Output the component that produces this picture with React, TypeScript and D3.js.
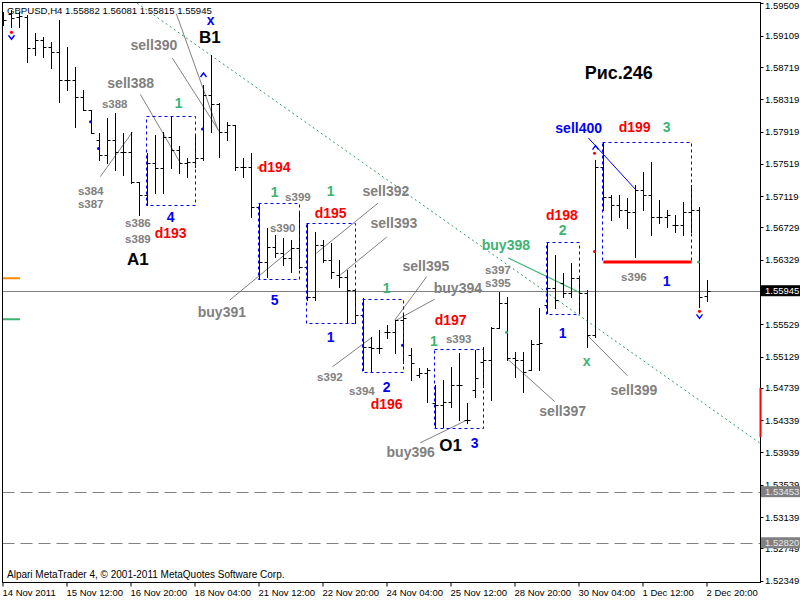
import * as d3 from "d3";

// chart frame (MetaTrader window)
const FRAME = { left: 2.5, top: 2.5, right: 760.5, bottom: 582.5 };
const FONT = "'Liberation Sans', Arial, sans-serif";

const header = "GBPUSD,H4  1.55882 1.56081 1.55815 1.55945";
const copyright = "Alpari MetaTrader 4, © 2001-2011 MetaQuotes Software Corp.";

// H4 bars, 14 Nov 2011 .. 2 Dec 2011 20:00
const opens = [
  1.5936, 1.5938, 1.5934, 1.5934, 1.5895, 1.5905, 1.5897, 1.5891, 1.5856, 1.5856,
  1.5835, 1.5819, 1.5781, 1.5763, 1.5781, 1.5767, 1.5767, 1.5729, 1.5713, 1.5753,
  1.5747, 1.5785, 1.5769, 1.5753, 1.5754, 1.5759, 1.5837, 1.5826, 1.5791, 1.58,
  1.5748, 1.5748, 1.5698, 1.563, 1.5649, 1.5641, 1.5635, 1.5647, 1.5624, 1.5587,
  1.5651, 1.5633, 1.5614, 1.5612, 1.5595, 1.5564, 1.5525, 1.5523, 1.5543, 1.5543,
  1.5558, 1.5515, 1.549, 1.5492, 1.5455, 1.5453, 1.5457, 1.5477, 1.5434, 1.5471,
  1.5506, 1.5509, 1.5548, 1.5579, 1.5511, 1.5509, 1.5496, 1.5528, 1.5577, 1.5598,
  1.5604, 1.5592, 1.561, 1.5592, 1.554, 1.5748, 1.5711, 1.5701, 1.5695, 1.5692,
  1.5719, 1.5713, 1.5686, 1.5686, 1.5676, 1.5676, 1.5692, 1.5695, 1.55882,
];
const highs = [
  1.594, 1.5943, 1.594, 1.5936, 1.5914, 1.5909, 1.5903, 1.593, 1.5897, 1.5872,
  1.5843, 1.5819, 1.579, 1.5809, 1.5815, 1.579, 1.5791, 1.5729, 1.5765, 1.5788,
  1.5791, 1.581, 1.5774, 1.5759, 1.5788, 1.585, 1.5887, 1.5827, 1.5804, 1.58,
  1.5759, 1.5765, 1.5703, 1.5672, 1.5664, 1.566, 1.5657, 1.5692, 1.5678, 1.5667,
  1.5657, 1.5654, 1.5633, 1.562, 1.5595, 1.5585, 1.5537, 1.5546, 1.5552, 1.5558,
  1.5567, 1.5523, 1.5499, 1.5499, 1.5477, 1.5484, 1.55, 1.5517, 1.5455, 1.5521,
  1.5525, 1.555, 1.5593, 1.5587, 1.5518, 1.5518, 1.5533, 1.5573, 1.5655, 1.5639,
  1.5616, 1.5629, 1.561, 1.5595, 1.5757, 1.5779, 1.5713, 1.5713, 1.5709, 1.5726,
  1.5742, 1.5754, 1.5707, 1.5695, 1.5688, 1.5705, 1.5726, 1.5698, 1.56081,
];
const lows = [
  1.5924, 1.5922, 1.5922, 1.5878, 1.5887, 1.5884, 1.5871, 1.5829, 1.5843, 1.5798,
  1.5819, 1.579, 1.5757, 1.5753, 1.5744, 1.5738, 1.5728, 1.5688, 1.5701, 1.5716,
  1.5716, 1.5747, 1.574, 1.5736, 1.5748, 1.5757, 1.5791, 1.576, 1.5781, 1.5744,
  1.5736, 1.5686, 1.561, 1.5612, 1.5636, 1.5626, 1.5618, 1.5623, 1.5583, 1.5583,
  1.563, 1.561, 1.5599, 1.5554, 1.5554, 1.5496, 1.5494, 1.5517, 1.5536, 1.5517,
  1.5505, 1.5484, 1.5488, 1.5457, 1.5425, 1.5425, 1.545, 1.5434, 1.543, 1.5463,
  1.5475, 1.5459, 1.5548, 1.5509, 1.5488, 1.5469, 1.5496, 1.5496, 1.5567, 1.5573,
  1.5587, 1.5587, 1.5567, 1.5525, 1.5537, 1.5695, 1.5682, 1.5686, 1.5672, 1.5636,
  1.5695, 1.5664, 1.5678, 1.5674, 1.5667, 1.5664, 1.5667, 1.5574, 1.55815,
];
const closes = [
  1.593, 1.5933, 1.5935, 1.5895, 1.5905, 1.5897, 1.5891, 1.5856, 1.5856, 1.5835,
  1.5819, 1.579, 1.5763, 1.5781, 1.5767, 1.5767, 1.5729, 1.5713, 1.5753, 1.5747,
  1.5785, 1.5769, 1.5753, 1.5754, 1.5759, 1.5837, 1.5826, 1.5791, 1.58, 1.5748,
  1.5748, 1.5698, 1.563, 1.5649, 1.5641, 1.5635, 1.5647, 1.5624, 1.5587, 1.5651,
  1.5633, 1.5618, 1.5612, 1.5595, 1.5564, 1.5525, 1.5523, 1.5523, 1.5543, 1.5558,
  1.5561, 1.5505, 1.5492, 1.5496, 1.5453, 1.5457, 1.5477, 1.5477, 1.5434, 1.5486,
  1.5509, 1.5548, 1.5579, 1.5511, 1.5509, 1.5494, 1.5528, 1.553, 1.5598, 1.5583,
  1.5592, 1.561, 1.5592, 1.554, 1.5748, 1.5711, 1.5701, 1.5695, 1.5692, 1.5719,
  1.5713, 1.5686, 1.5686, 1.5688, 1.5676, 1.5692, 1.5695, 1.5587, 1.55945,
];

const timeLabels = [
  "14 Nov 2011", "15 Nov 12:00", "16 Nov 20:00", "18 Nov 04:00", "21 Nov 12:00",
  "22 Nov 20:00", "24 Nov 04:00", "25 Nov 12:00", "28 Nov 20:00", "30 Nov 04:00",
  "1 Dec 12:00", "2 Dec 20:00",
];
const priceTicks = [
  1.59509, 1.59109, 1.58719, 1.58319, 1.57919, 1.57519, 1.57119, 1.56729, 1.56329,
  1.55529, 1.55129, 1.54739, 1.54339, 1.53939, 1.53539, 1.53139, 1.52749, 1.52349,
];
const lastPrice = 1.55945;
const dashedLevels = [1.53453, 1.5282];
const axisRange = [1.5413, 1.5474];
const leftLevels: [number, string][] = [
  [1.561, "orange"],
  [1.5559, "green"],
];

// boxes: [fromBar, toBar, top, bottom]
const boxes: [number, number, number, number][] = [
  [18, 24, 1.5811, 1.5701],
  [32, 37, 1.5703, 1.5609],
  [38, 44, 1.5678, 1.5554],
  [45, 50, 1.5584, 1.5494],
  [54, 60, 1.5522, 1.5424],
  [68, 72, 1.5655, 1.5566],
  [75, 86, 1.5779, 1.563],
];
const redLevel: [number, number, number] = [75, 86, 1.563];

// dotted trend line
const trend: [number, number, number, number] = [16.7, 1.5951, 94.5, 1.5406];

// pointer lines [bar1, price1, bar2, price2, kind]
const pointers: [number, number, number, number, string][] = [
  [21.6, 1.5938, 26.8, 1.5794, "grey"],
  [21.1, 1.5883, 27.1, 1.579, "grey"],
  [17.1, 1.5838, 22.1, 1.5753, "grey"],
  [12.1, 1.5736, 16.1, 1.5791, "grey"],
  [28.3, 1.5583, 36.1, 1.5647, "grey"],
  [39.1, 1.5641, 46.8, 1.5703, "grey"],
  [42.1, 1.5614, 47.9, 1.5661, "grey"],
  [48.9, 1.5558, 52.9, 1.5612, "grey"],
  [49.1, 1.5558, 53.9, 1.5584, "grey"],
  [41.1, 1.55, 46.1, 1.5537, "grey"],
  [52.1, 1.5406, 57.9, 1.5434, "grey"],
  [63.1, 1.5509, 68.9, 1.5457, "grey"],
  [73.1, 1.5538, 78.0, 1.5489, "grey"],
  [73.1, 1.5784, 79.1, 1.5719, "blue"],
  [63.1, 1.5635, 72.1, 1.5592, "green"],
];

// text objects [text, bar, price, kind]
const notes: [string, number, number, string][] = [
  ["x", 25.9, 1.593, "blue"],
  ["B1", 25.8, 1.5908, "wave"],
  ["sell390", 18.8, 1.5899, "sig"],
  ["sell388", 15.9, 1.5852, "sig"],
  ["s388", 13.9, 1.5826, "small"],
  ["1", 21.9, 1.5827, "green"],
  ["s384", 10.9, 1.5718, "small"],
  ["s387", 10.9, 1.5702, "small"],
  ["s386", 16.8, 1.5678, "small"],
  ["s389", 16.8, 1.5659, "small"],
  ["4", 20.9, 1.5686, "blue"],
  ["d193", 20.9, 1.5666, "red"],
  ["A1", 16.8, 1.5633, "wave"],
  ["d194", 33.9, 1.5748, "red"],
  ["1", 33.9, 1.5717, "green"],
  ["s399", 36.8, 1.5711, "small"],
  ["1", 40.9, 1.5718, "green"],
  ["sell392", 47.8, 1.5718, "sig"],
  ["d195", 40.9, 1.5691, "red"],
  ["s390", 34.9, 1.5672, "small"],
  ["sell393", 48.8, 1.5678, "sig"],
  ["sell395", 52.8, 1.5625, "sig"],
  ["buy394", 56.8, 1.5598, "sig"],
  ["1", 47.9, 1.5598, "green"],
  ["5", 33.9, 1.5583, "blue"],
  ["buy391", 27.3, 1.5568, "sig"],
  ["1", 40.9, 1.5537, "blue"],
  ["d197", 55.9, 1.5558, "red"],
  ["1", 53.8, 1.5532, "green"],
  ["s393", 56.9, 1.5535, "small"],
  ["s392", 40.8, 1.5488, "small"],
  ["s394", 44.8, 1.547, "small"],
  ["2", 47.9, 1.5475, "blue"],
  ["d196", 47.9, 1.5454, "red"],
  ["O1", 55.9, 1.5403, "wave"],
  ["3", 58.9, 1.5406, "blue"],
  ["buy396", 50.9, 1.5395, "sig"],
  ["s397", 61.8, 1.562, "small"],
  ["s395", 61.8, 1.5604, "small"],
  ["buy398", 62.8, 1.5651, "green"],
  ["d198", 69.8, 1.5688, "red"],
  ["2", 69.9, 1.567, "green"],
  ["1", 69.9, 1.5542, "blue"],
  ["x", 72.9, 1.5507, "green"],
  ["sell397", 69.9, 1.5445, "sig"],
  ["sell399", 78.8, 1.5471, "sig"],
  ["sell400", 71.9, 1.5796, "blue"],
  ["d199", 78.9, 1.5798, "red"],
  ["3", 82.9, 1.5798, "green"],
  ["s396", 78.8, 1.5611, "small"],
  ["1", 82.9, 1.5607, "blue"],
  ["Рис.246", 76.9, 1.5864, "title"],
];

// arrows and dots [bar, price, kind]
const markers: [number, number, string][] = [
  [1, 1.591, "sell"],
  [25, 1.5862, "buy"],
  [74, 1.5772, "buy"],
  [87, 1.5564, "sell"],
  [11, 1.5804, "dotBlue"],
  [12, 1.5771, "dotBlue"],
  [25, 1.5795, "dotBlue"],
  [50, 1.5527, "dotBlue"],
  [74, 1.5765, "dotRed"],
  [74, 1.5643, "dotRed"],
  [63, 1.5543, "dotGreen"],
  [87, 1.563, "dotGreen"],
  [32, 1.5747, "dotOrange"],
];

const NOTE_STYLE: Record<string, { fill: string; size: number }> = {
  sig: { fill: "#808080", size: 14 },
  small: { fill: "#808080", size: 11.5 },
  green: { fill: "#3cb371", size: 14 },
  blue: { fill: "#0000ff", size: 14 },
  red: { fill: "#ff0000", size: 14 },
  wave: { fill: "#000000", size: 17 },
  title: { fill: "#000000", size: 18 },
};
const LINE_COLOR: Record<string, string> = {
  grey: "#808080",
  blue: "#0000ff",
  green: "#3cb371",
  orange: "#ff8c00",
};
const DOT_COLOR: Record<string, string> = {
  dotBlue: "#0000ff",
  dotRed: "#ff0000",
  dotGreen: "#3cb371",
  dotOrange: "#ff8c00",
};

export default function App() {
  const x = d3.scaleLinear().domain([0, 88]).range([3.5, 707.5]);
  const y = d3.scaleLinear().domain([1.5211, 1.5955]).range([600, 0]);
  const py = (p: number) => Math.round(y(p)) + 0.5;

  const bars = d3.range(opens.length);
  const tickBars = timeLabels.map((_, k) => k * 8);

  return (
    <svg
      width={800}
      height={600}
      style={{ position: "absolute", left: 0, top: 0, background: "#fff" }}
      fontFamily={FONT}
    >
      <defs>
        <clipPath id="plot">
          <rect x={FRAME.left} y={FRAME.top} width={FRAME.right - FRAME.left} height={FRAME.bottom - FRAME.top} />
        </clipPath>
      </defs>
      <rect width={800} height={600} fill="#fff" />

      <g clipPath="url(#plot)">
        {/* levels */}
        <line x1={FRAME.left} x2={FRAME.right} y1={py(lastPrice)} y2={py(lastPrice)} stroke="#808080" />
        {dashedLevels.map((p) => (
          <line key={p} x1={FRAME.left} x2={FRAME.right} y1={py(p)} y2={py(p)} stroke="#808080" strokeDasharray="12,6" />
        ))}
        {leftLevels.map(([p, c]) => (
          <line key={p} x1={3} x2={20} y1={y(p)} y2={y(p)} stroke={LINE_COLOR[c]} strokeWidth={2} />
        ))}

        {/* trend line */}
        <line
          x1={x(trend[0])}
          y1={y(trend[1])}
          x2={x(trend[2])}
          y2={y(trend[3])}
          stroke="#2e9b5f"
          strokeDasharray="2,3"
        />

        {/* pointer lines */}
        {pointers.map(([a, p1, b, p2, c], k) => (
          <line key={k} x1={x(a)} y1={y(p1)} x2={x(b)} y2={y(p2)} stroke={LINE_COLOR[c]} strokeWidth={c === "green" ? 1.2 : 1} />
        ))}

        {/* OHLC bars */}
        {bars.map((i) => {
          const cx = x(i);
          return (
            <g key={i} stroke="#000" strokeWidth={1}>
              <line x1={cx} x2={cx} y1={Math.round(y(highs[i]))} y2={Math.round(y(lows[i])) + 1} />
              <line x1={cx - 3} x2={cx} y1={py(opens[i])} y2={py(opens[i])} />
              <line x1={cx} x2={cx + 3} y1={py(closes[i])} y2={py(closes[i])} />
            </g>
          );
        })}

        {/* boxes, drawn over the bars */}
        {boxes.map(([a, b, t, bt], k) => (
          <rect
            key={k}
            x={x(a) - 1}
            y={py(t)}
            width={x(b) - x(a) + 1}
            height={py(bt) - py(t)}
            fill="none"
            stroke="#0000ff"
            strokeDasharray="3,3"
          />
        ))}
        <line
          x1={x(redLevel[0])}
          x2={x(redLevel[1])}
          y1={y(redLevel[2])}
          y2={y(redLevel[2])}
          stroke="#ff0000"
          strokeWidth={3}
        />

        {/* markers */}
        {markers.map(([i, p, kind], k) => {
          const cx = x(i);
          const cy = y(p);
          if (kind === "sell") {
            return (
              <g key={k}>
                <circle cx={cx} cy={cy - 4} r={1.6} fill="#ff0000" />
                <path d={`M${cx - 3},${cy - 1}L${cx},${cy + 3}L${cx + 3},${cy - 1}`} fill="none" stroke="#0000ff" strokeWidth={1.4} />
              </g>
            );
          }
          if (kind === "buy") {
            return (
              <path key={k} d={`M${cx - 3},${cy + 2}L${cx},${cy - 2}L${cx + 3},${cy + 2}`} fill="none" stroke="#0000ff" strokeWidth={1.4} />
            );
          }
          return <circle key={k} cx={cx - 1} cy={cy} r={1.5} fill={DOT_COLOR[kind]} />;
        })}

        {/* texts */}
        {notes.map(([t, i, p, kind], k) => {
          const s = NOTE_STYLE[kind];
          return (
            <text
              key={k}
              x={x(i)}
              y={y(p)}
              textAnchor="middle"
              dominantBaseline="central"
              fontSize={s.size}
              fontWeight="bold"
              fill={s.fill}
            >
              {t}
            </text>
          );
        })}

        <text x={7} y={14} fontSize={9.6} fill="#000">
          {header}
        </text>
        <text x={7} y={578} fontSize={10} fill="#000">
          {copyright}
        </text>
      </g>

      {/* frame */}
      <rect
        x={FRAME.left}
        y={FRAME.top}
        width={FRAME.right - FRAME.left}
        height={FRAME.bottom - FRAME.top}
        fill="none"
        stroke="#000"
      />

      {/* price axis */}
      {priceTicks.map((p) => (
        <g key={p}>
          <line x1={FRAME.right} x2={FRAME.right + 3} y1={py(p)} y2={py(p)} stroke="#000" />
          <text x={765} y={Math.max(y(p), 5)} dominantBaseline="central" fontSize={9.5} fill="#000">
            {p.toFixed(5)}
          </text>
        </g>
      ))}
      {dashedLevels.map((p) => (
        <g key={p}>
          <rect x={761} y={y(p) - 5.5} width={39} height={11} fill="#808080" />
          <text x={765} y={y(p)} dominantBaseline="central" fontSize={9.5} fill="#e8e8e8">
            {p.toFixed(5)}
          </text>
        </g>
      ))}
      <rect x={761} y={y(lastPrice) - 5.5} width={39} height={11} fill="#000" />
      <text x={765} y={y(lastPrice)} dominantBaseline="central" fontSize={9.5} fill="#fff">
        {lastPrice.toFixed(5)}
      </text>
      <line
        x1={FRAME.right}
        x2={FRAME.right}
        y1={y(axisRange[1])}
        y2={y(axisRange[0])}
        stroke="#ff0000"
        strokeWidth={2}
      />

      {/* time axis */}
      {tickBars.map((b, k) => (
        <g key={b}>
          <line x1={x(b) - 0.5} x2={x(b) - 0.5} y1={FRAME.bottom} y2={FRAME.bottom + 4} stroke="#000" />
          <text x={x(b) - 1} y={596} fontSize={9.5} fill="#000">
            {timeLabels[k]}
          </text>
        </g>
      ))}
    </svg>
  );
}
